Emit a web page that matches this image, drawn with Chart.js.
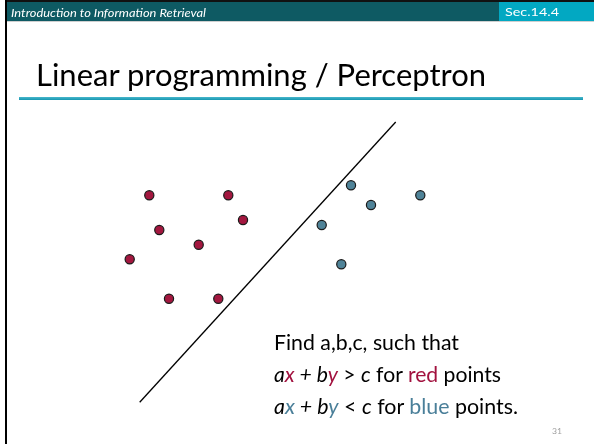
<!DOCTYPE html>
<html>
<head>
<meta charset="utf-8">
<script src="https://cdn.jsdelivr.net/npm/chart.js@4.4.1/dist/chart.umd.min.js"></script>
<style>
html,body{margin:0;padding:0;background:#fff;}
#slide{position:relative;width:594px;height:444px;overflow:hidden;background:#fff;font-family:Lato,"Open Sans",sans-serif;}
#border{position:absolute;left:5px;top:0;width:2px;height:444px;background:#000;}
#topline{position:absolute;left:5px;top:0;width:589px;height:2px;background:#111;}
#hdr{position:absolute;left:7px;top:2px;width:587px;height:19px;background:#0e5a63;}
#sec{position:absolute;left:499px;top:2px;width:95px;height:19px;background:#02a8c2;}
#hdrline{position:absolute;left:7px;top:21px;width:587px;height:1px;background:#cfcfcf;}
#uline{position:absolute;left:19px;top:97px;width:564px;height:3px;background:linear-gradient(#48b7cc,#1696b0);}
.t{position:absolute;white-space:nowrap;line-height:1;transform-origin:0 0;}
#cv{position:absolute;left:0;top:0;}
.r{color:#a2123f;}
.b{color:#4a7f99;}
</style>
</head>
<body>
<div id="slide">
  <div id="topline"></div>
  <div id="hdr"></div>
  <div id="sec"></div>
  <div id="hdrline"></div>
  <div id="border"></div>
  <div id="uline"></div>
  <div style="position:absolute;left:0;top:0;width:594px;height:444px;"><canvas id="cv" width="594" height="444"></canvas></div>
  <div class="t" id="tHdr" data-x="11" data-base="16.7" data-size="11" data-w="195" style="color:#fff;font-style:italic;">Introduction to Information Retrieval</div>
  <div class="t" id="tSec" data-x="505" data-base="16.7" data-size="11.5" data-w="54" style="color:#fff;">Sec.14.4</div>
  <div class="t" id="tTitle" data-x="36" data-base="86" data-size="31" data-w="450" style="color:#000;">Linear programming / Perceptron</div>
  <div class="t" id="tL1" data-x="274" data-base="350" data-size="21" data-w="185" style="color:#000;">Find a,b,c, such that</div>
  <div class="t" id="tL2" data-x="274" data-base="382" data-size="21" data-w="227" style="color:#000;"><i>a<span class="r">x</span> + b<span class="r">y</span></i> &gt; <i>c</i> for <span class="r">red</span> points</div>
  <div class="t" id="tL3" data-x="274" data-base="414" data-size="21" data-w="244" style="color:#000;"><i>a<span class="b">x</span> + b<span class="b">y</span></i> &lt; <i>c</i> for <span class="b">blue</span> points.</div>
  <div class="t" id="tPg" data-x="552" data-base="434" data-size="7" data-w="10" style="color:#a0a0a0;">31</div>
</div>
<script>
// Data (units: x to the right, y upward)
const redX = [14.93, 22.83, 24.30, 15.93, 19.87, 12.97, 16.90, 21.83];
const redY = [24.87, 24.87, 22.40, 21.40, 19.93, 18.47, 14.53, 14.53];
const blueX = [35.10, 37.10, 42.03, 32.17, 34.13];
const blueY = [25.87, 23.90, 24.87, 21.90, 17.97];
const lineX = [13.97, 39.57];
const lineY = [4.17, 32.20];

const toPts = (xs, ys) => xs.map((x, i) => ({x: x, y: ys[i]}));

// Position text
document.querySelectorAll('.t').forEach(el => {
  const s = parseFloat(el.dataset.size);
  el.style.fontSize = s + 'px';
  el.style.left = el.dataset.x + 'px';
  el.style.top = (parseFloat(el.dataset.base) - 0.887 * s) + 'px';
});
function fit(){
  document.querySelectorAll('.t').forEach(el => {
    const w = el.getBoundingClientRect().width;
    const target = parseFloat(el.dataset.w);
    if (w > 0) el.style.transform = 'scaleX(' + (target / w) + ')';
  });
}
fit();
if (document.fonts && document.fonts.ready) document.fonts.ready.then(() => { document.querySelectorAll('.t').forEach(el=>el.style.transform=''); fit(); });

new Chart(document.getElementById('cv'), {
  type: 'scatter',
  data: {
    datasets: [
      {
        label: 'line',
        data: toPts(lineX, lineY),
        showLine: true,
        borderColor: '#000',
        borderWidth: 1.3,
        pointRadius: 0,
        fill: false
      },
      {
        label: 'red',
        data: toPts(redX, redY),
        backgroundColor: '#a3173f',
        borderColor: '#1a1a1a',
        borderWidth: 1.2,
        pointRadius: 4.6
      },
      {
        label: 'blue',
        data: toPts(blueX, blueY),
        backgroundColor: '#4f8398',
        borderColor: '#1a1a1a',
        borderWidth: 1.2,
        pointRadius: 4.6
      }
    ]
  },
  options: {
    responsive: false,
    animation: false,
    clip: false,
    layout: {padding: 0, autoPadding: false},
    plugins: {legend: {display: false}, tooltip: {enabled: false}},
    scales: {
      x: {type: 'linear', min: 0, max: 59.4, display: false},
      y: {type: 'linear', min: 0, max: 44.4, display: false}
    }
  }
});
</script>
</body>
</html>
